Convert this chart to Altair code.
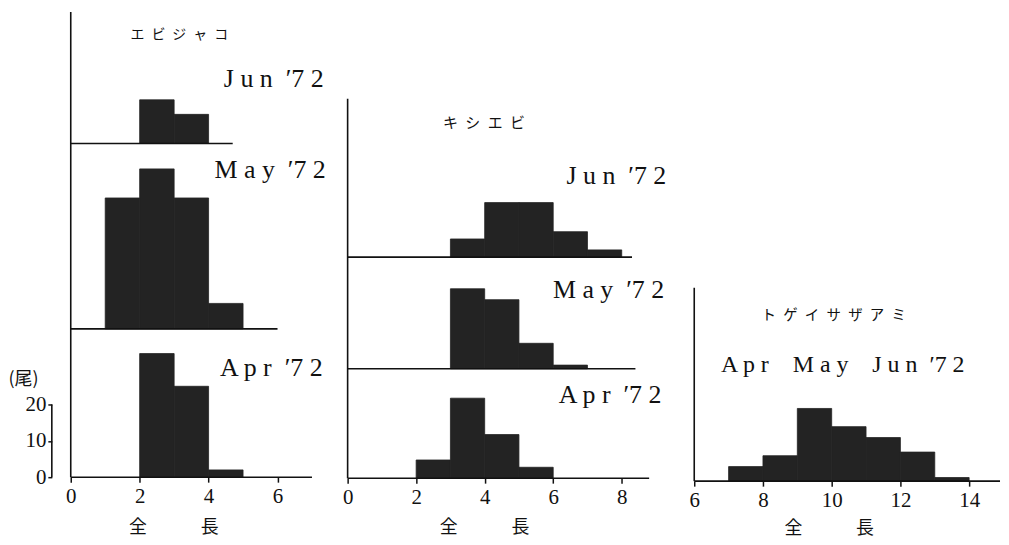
import altair as alt
import pandas as pd

# ---------------- data ----------------
months = ["Jun", "May", "Apr"]

# エビジャコ  (start of 1-unit length classes, counts)
ebi_start = {"Jun": [2, 3], "May": [1, 2, 3, 4], "Apr": [2, 3, 4]}
ebi_count = {"Jun": [12, 8], "May": [36, 44, 36, 7], "Apr": [34, 25, 2]}

# キシエビ
kis_start = {"Jun": [3, 4, 5, 6, 7], "May": [3, 4, 5, 6], "Apr": [2, 3, 4, 5]}
kis_count = {"Jun": [5, 15, 15, 7, 2], "May": [22, 19, 7, 1], "Apr": [5, 22, 12, 3]}

# トゲイサザアミ (Apr+May+Jun pooled)
tog_start = [7, 8, 9, 10, 11, 12, 13]
tog_count = [4, 7, 20, 15, 12, 8, 1]

ticks_ebi = [0, 2, 4, 6]
ticks_kis = [0, 2, 4, 6, 8]
ticks_tog = [6, 8, 10, 12, 14]
scale_ticks = [0, 10, 20]

# ---------------- style / layout ----------------
PX_PER_COUNT = 3.65
SERIF = "Liberation Serif"
JP = "Noto Sans CJK JP"
INK = "#111111"
BAR = "#232323"
ESP = "\u2002"
NB = "\u00a0"

# vertical stacking offsets of each month's baseline (in count units, layout)
ebi_base = {"Apr": 0, "May": 40.8, "Jun": 91.8}
kis_base = {"Apr": 0, "May": 30.1, "Jun": 60.8}
# length of each month's baseline (x units, layout)
ebi_line_end = {"Apr": 7.0, "May": 6.0, "Jun": 4.7}
kis_line_end = {"Apr": 8.8, "May": 8.4, "Jun": 8.3}

one = pd.DataFrame({"a": [0]})


def txt(text, x, y, font, size, align="right", baseline="alphabetic"):
    return alt.Chart(one).mark_text(
        text=text, font=font, fontSize=size, align=align, baseline=baseline,
        color=INK, fontWeight="normal"
    ).encode(x=alt.datum(x), y=alt.datum(y))


def xaxis(values, title_x, title_y):
    return alt.Axis(
        values=values, domain=False, grid=False, tickSize=5, tickWidth=1.5,
        tickColor=INK, labelFont=SERIF, labelFontSize=21, labelColor=INK,
        labelPadding=3, labelFlush=False, labelOverlap=False,
        title="全　　　長", titleFont=JP, titleFontSize=18, titleFontWeight="normal",
        titleColor=INK, titleX=title_x, titleY=title_y, titleAlign="center",
        titleBaseline="middle",
    )


def column(starts, counts, bases, line_end, xdom, width, height, axis,
           vert_top, texts):
    rows = []
    for m in starts:
        for s, c in zip(starts[m], counts[m]):
            rows.append({"month": m, "start": s, "end": s + 1,
                         "base": bases[m], "top": bases[m] + c})
    df = pd.DataFrame(rows)
    lines = pd.DataFrame({"month": list(bases),
                          "x0": [xdom[0]] * len(bases),
                          "base": [bases[m] for m in bases],
                          "end": [line_end[m] for m in bases]})
    ydom = [0, height / PX_PER_COUNT]
    xs = alt.Scale(domain=xdom, nice=False, zero=False)
    ys = alt.Scale(domain=ydom, nice=False)
    bars = alt.Chart(df).mark_rect(color=BAR, stroke=BAR, strokeWidth=0.8).encode(
        x=alt.X("start:Q", scale=xs, axis=axis),
        x2="end:Q",
        y=alt.Y("top:Q", scale=ys, axis=None),
        y2="base:Q",
    )
    base = alt.Chart(lines).mark_rule(color=INK, strokeWidth=1.6).encode(
        x=alt.X("x0:Q"), x2="end:Q", y=alt.Y("base:Q")
    )
    vert = alt.Chart(one).mark_rule(color=INK, strokeWidth=1.6).encode(
        x=alt.datum(xdom[0]), y=alt.datum(0), y2=alt.datum(vert_top)
    )
    layers = [bars, base, vert] + [txt(*t) for t in texts]
    return alt.layer(*layers).properties(width=width, height=height)


JUN = "J u n" + NB + " ′7 2"
MAY = "M a y" + NB + " ′7 2"
APR = "A p r" + NB + " ′7 2"

# ---- column 1: エビジャコ ----
W1, H1 = 278, 467
XD1 = [0, W1 / 34.6]
col1 = column(ebi_start, ebi_count, ebi_base, ebi_line_end, XD1, W1, H1,
              xaxis(ticks_ebi, 103, 51), H1 / PX_PER_COUNT, [
                  (ESP.join("エビジャコ"), 3.15, 121.7, JP, 14, "center", "middle"),
                  (JUN, 7.34, 107.4, SERIF, 26),
                  (MAY, 7.4, 82.4, SERIF, 26),
                  (APR, 7.31, 27.9, SERIF, 26),
              ])

# ---- column 2: キシエビ ----
W2, H2 = 348, 468
XD2 = [0, W2 / 34.4]
col2 = column(kis_start, kis_count, kis_base, kis_line_end, XD2, W2, H2,
              xaxis(ticks_kis, 137, 50), 104.4, [
                  (ESP.join("キシエビ"), 3.98, 97.8, JP, 15, "center", "middle"),
                  (JUN, 9.3, 80.8, SERIF, 26),
                  (MAY, 9.24, 49.6, SERIF, 26),
                  (APR, 9.16, 20.8, SERIF, 26),
              ])

# ---- column 3: トゲイサザアミ ----
W3, H3 = 307, 471
XD3 = [6, 6 + W3 / 34.5]
ALL = "A p r" + NB + " " + NB + " M a y" + NB + " " + NB + " J u n" + NB + " ′7 2"
col3 = column({"All": tog_start}, {"All": tog_count}, {"All": 0}, {"All": XD3[1]},
              XD3, W3, H3, xaxis(ticks_tog, 135, 48), 53.2, [
                  (ESP.join("トゲイサザアミ"), 10.06, 45.5, JP, 14.5, "center", "middle"),
                  (ALL, 6.78, 29.9, SERIF, 24, "left"),
              ])

# ---- column 0: count scale bar ----
H0 = 467
ys0 = alt.Scale(domain=[0, H0 / PX_PER_COUNT], nice=False)
xs0 = alt.Scale(domain=[0, 1], nice=False)
scale_df = pd.DataFrame({"v": scale_ticks, "x": [0] * len(scale_ticks)})
scale_axis = alt.Chart(scale_df).mark_point(opacity=0, size=1).encode(
    x=alt.X("x:Q", scale=xs0, axis=None),
    y=alt.Y("v:Q", scale=ys0,
            axis=alt.Axis(
                values=scale_ticks, orient="left", grid=False, domain=False,
                ticks=True, tickSize=4, tickWidth=1.5, tickColor=INK,
                labelFont=SERIF, labelFontSize=21, labelColor=INK, labelPadding=2,
                title=None,
            )),
)
scale_line = alt.Chart(one).mark_rule(color=INK, strokeWidth=1.6).encode(
    x=alt.datum(0), y=alt.datum(scale_ticks[0]), y2=alt.datum(scale_ticks[-1])
)
scale_title = alt.Chart(one).mark_text(
    text="(尾)", font=JP, fontSize=18, align="center", baseline="middle", color=INK
).encode(x=alt.datum(-1.5), y=alt.datum(26.6))
col0 = alt.layer(scale_axis, scale_line, scale_title).properties(width=19, height=H0)

chart = alt.hconcat(col0, col1, col2, col3, spacing=0, bounds="flush").properties(
    padding={"left": 0, "top": 2, "right": 0, "bottom": 0}
).configure_view(stroke=None).configure_axis(labelFont=SERIF)

chart.save("out.html", embed_options={"renderer": "svg", "actions": False})
